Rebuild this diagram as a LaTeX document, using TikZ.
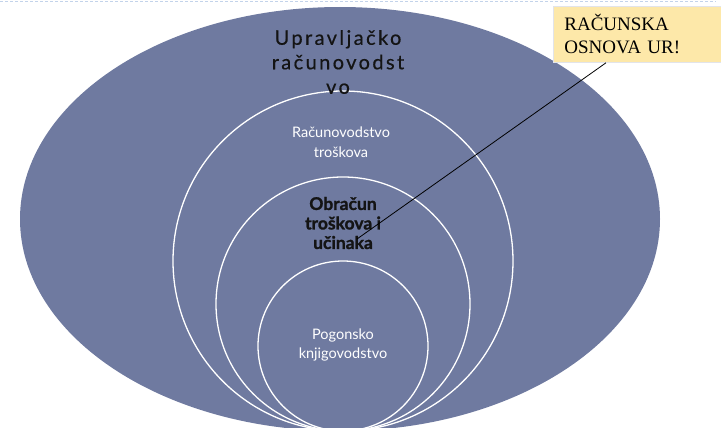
\documentclass[tikz,border=0pt]{standalone}
\usepackage{fontspec}
\setmainfont{Lato}
\newfontfamily\spacedfont{Lato}[LetterSpace=12, FakeBold=0.5]
\newfontfamily\heavyfont{Lato}[BoldFeatures={FakeBold=1.2}]
\newfontfamily\calloutfont{Liberation Serif}
\usetikzlibrary{shapes.geometric}
\definecolor{slate}{HTML}{6F7AA0}
\definecolor{callfill}{HTML}{FDE8A9}
\definecolor{callborder}{HTML}{E2E4EA}
\definecolor{topdash}{HTML}{C3D3EA}
\definecolor{darktext}{HTML}{141414}
\tikzset{
  ring/.style={circle, draw=white, line width=1.3pt, inner sep=0pt, outer sep=0pt},
  whitelabel/.style={text=white, align=center, font=\fontsize{14.5}{19.5}\selectfont},
  boldlabel/.style={text=darktext, align=center, font=\heavyfont\bfseries\fontsize{17.5}{19.5}\selectfont},
  titlelabel/.style={text=darktext, align=center, font=\spacedfont\fontsize{20}{24.5}\selectfont},
  calloutbox/.style={draw=callborder, line width=0.8pt, fill=callfill, anchor=north west,
    minimum width=172pt, minimum height=56pt, inner xsep=8pt, inner ysep=4pt,
    align=left, text width=150pt, font=\calloutfont\fontsize{19}{23}\selectfont},
  connector/.style={draw=black, line width=0.8pt}
}
\begin{document}
\begin{tikzpicture}[x=1pt,y=-1pt]
\useasboundingbox (0,0) rectangle (721,428);
% top dashed guide
\draw[topdash, line width=1.2pt, dash pattern=on 3pt off 2pt] (0,1.5) -- (716,1.5);
% outer ellipse
\node[ellipse, fill=slate, minimum width=640pt, minimum height=424pt, inner sep=0pt, outer sep=0pt] (outer) at (340,219) {};
% nested circles
\node[ring, minimum size=340pt] (c1) at (343,261) {};
\node[ring, minimum size=254pt] (c2) at (343,304) {};
\node[ring, minimum size=170pt] (c3) at (343,346) {};
% labels
\node[titlelabel] (t0) at (338,62) {Upravljačko\\računovodst\\vo};
\node[whitelabel] (t1) at (341,142) {Računovodstvo\\troškova};
\node[boldlabel] (t2) at (343,223) {Obračun\\troškova i\\učinaka};
\node[whitelabel] (t3) at (343,345) {Pogonsko\\knjigovodstvo};
% callout
\node[calloutbox] (callout) at (553,6) {RAČUNSKA\\OSNOVA UR!};
\coordinate (tip) at (357,239);
\draw[connector] ([xshift=53pt]callout.south west) -- (tip);
\end{tikzpicture}
\end{document}
